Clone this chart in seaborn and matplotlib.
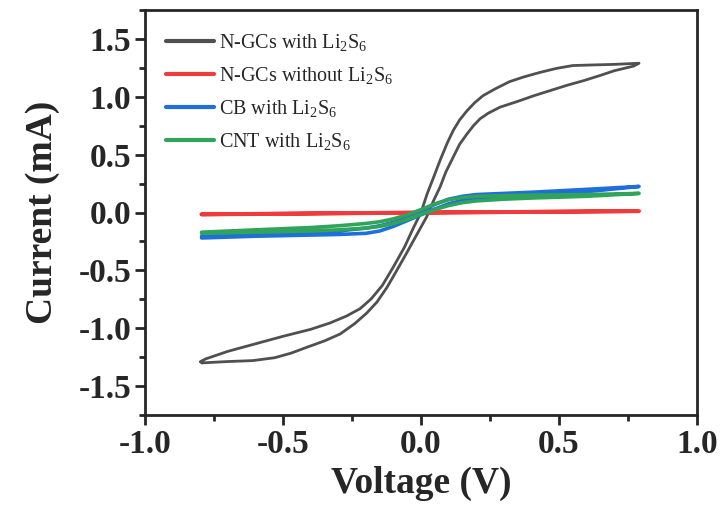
import numpy as np
import pandas as pd
import matplotlib
matplotlib.use("Agg")
import matplotlib.pyplot as plt
import seaborn as sns
from matplotlib.ticker import MultipleLocator

# N-GCs with Li2S6 : forward (-0.8 -> 0.8) and reverse (0.8 -> -0.8) scans
ngc_v_fwd = [-0.80, -0.78, -0.70, -0.60, -0.50, -0.40, -0.33, -0.27, -0.22, -0.18,
             -0.14, -0.10, -0.06, -0.027, 0.0, 0.022, 0.045, 0.069, 0.095, 0.117,
             0.14, 0.167, 0.195, 0.225, 0.27, 0.32, 0.37, 0.43, 0.49, 0.55, 0.62,
             0.70, 0.79]
ngc_i_fwd = [-1.29, -1.265, -1.20, -1.135, -1.07, -1.01, -0.955, -0.895, -0.83, -0.745,
             -0.63, -0.47, -0.30, -0.13, 0.0, 0.16, 0.30, 0.45, 0.60, 0.71,
             0.80, 0.88, 0.95, 1.01, 1.07, 1.13, 1.17, 1.21, 1.245, 1.27, 1.275,
             1.28, 1.29]
ngc_v_rev = [0.79, 0.77, 0.70, 0.65, 0.59, 0.53, 0.47, 0.41, 0.35, 0.286, 0.245,
             0.214, 0.19, 0.167, 0.14, 0.117, 0.09, 0.069, 0.045, 0.02, -0.015,
             -0.052, -0.09, -0.124, -0.16, -0.197, -0.24, -0.293, -0.35, -0.414,
             -0.47, -0.53, -0.61, -0.70, -0.795]
ngc_i_rev = [1.29, 1.265, 1.225, 1.185, 1.14, 1.10, 1.055, 1.01, 0.96, 0.91, 0.86,
             0.81, 0.75, 0.68, 0.59, 0.48, 0.35, 0.22, 0.10, -0.04, -0.19,
             -0.35, -0.51, -0.65, -0.775, -0.87, -0.96, -1.05, -1.11, -1.165,
             -1.215, -1.255, -1.28, -1.288, -1.30]

# N-GCs without Li2S6
bare_v = [-0.795, -0.4, 0.0, 0.4, 0.79, 0.4, 0.0, -0.4, -0.795]
bare_i = [-0.015, -0.008, 0.0, 0.006, 0.012, 0.005, -0.002, -0.009, -0.017]

# CB with Li2S6
cb_v = [-0.795, -0.6, -0.4, -0.3, -0.2, -0.15, -0.1, -0.05, 0.0, 0.05, 0.1, 0.15,
        0.2, 0.3, 0.4, 0.6, 0.79,
        0.6, 0.4, 0.3, 0.2, 0.15, 0.1, 0.05, 0.0, -0.05, -0.1, -0.15, -0.2, -0.3,
        -0.4, -0.6, -0.795]
cb_i = [-0.205, -0.19, -0.175, -0.16, -0.135, -0.115, -0.085, -0.04, 0.01, 0.07,
        0.115, 0.14, 0.155, 0.165, 0.175, 0.20, 0.225,
        0.18, 0.155, 0.14, 0.125, 0.105, 0.075, 0.03, -0.02, -0.07, -0.12, -0.16,
        -0.18, -0.19, -0.195, -0.205, -0.22]

# CNT with Li2S6
cnt_v = [-0.795, -0.6, -0.4, -0.3, -0.2, -0.15, -0.1, -0.05, 0.0, 0.05, 0.1, 0.15,
         0.2, 0.3, 0.4, 0.6, 0.79,
         0.6, 0.4, 0.3, 0.2, 0.15, 0.1, 0.05, 0.0, -0.05, -0.1, -0.15, -0.2, -0.3,
         -0.4, -0.6, -0.795]
cnt_i = [-0.17, -0.15, -0.13, -0.115, -0.095, -0.08, -0.055, -0.02, 0.025, 0.075,
         0.11, 0.13, 0.14, 0.145, 0.15, 0.155, 0.165,
         0.14, 0.125, 0.115, 0.10, 0.085, 0.06, 0.025, -0.015, -0.06, -0.095, -0.12,
         -0.135, -0.15, -0.16, -0.17, -0.18]

labels = [r"N-GCs with Li$_2$S$_6$", r"N-GCs without Li$_2$S$_6$",
          r"CB with Li$_2$S$_6$", r"CNT with Li$_2$S$_6$"]
colors = ["#505050", "#ef3b3b", "#1f6fdb", "#30a45a"]
widths = [2.0, 2.8, 2.6, 2.6]

series = [
    (ngc_v_fwd + ngc_v_rev, ngc_i_fwd + ngc_i_rev),
    (bare_v, bare_i),
    (cb_v, cb_i),
    (cnt_v, cnt_i),
]

sns.set_style("ticks")
plt.rcParams["font.family"] = ["Liberation Serif", "DejaVu Serif"]
plt.rcParams["mathtext.fontset"] = "custom"
plt.rcParams["mathtext.rm"] = "Liberation Serif"
plt.rcParams["mathtext.default"] = "regular"
plt.rcParams["axes.unicode_minus"] = False

fig, ax = plt.subplots(figsize=(7.21, 5.13), dpi=100)
fig.subplots_adjust(left=145 / 721, right=697 / 721, top=1 - 10 / 513, bottom=1 - 415 / 513)

for (v, i), lab, c, lw in zip(series, labels, colors, widths):
    df = pd.DataFrame({"Voltage": v, "Current": i, "step": np.arange(len(v))})
    sns.lineplot(data=df, x="Voltage", y="Current", sort=False, estimator=None,
                 color=c, lw=lw, label=lab, ax=ax, solid_capstyle="round",
                 solid_joinstyle="round")

ax.set_xlim(-1.0, 1.0)
ax.set_ylim(-1.75, 1.75)
ax.xaxis.set_major_locator(MultipleLocator(0.5))
ax.xaxis.set_minor_locator(MultipleLocator(0.25))
ax.yaxis.set_major_locator(MultipleLocator(0.5))
ax.yaxis.set_minor_locator(MultipleLocator(0.25))
ax.tick_params(which="major", length=7, width=2, labelsize=24, pad=3, direction="out")
ax.tick_params(which="minor", length=4, width=2, direction="out")
for lab in ax.get_xticklabels() + ax.get_yticklabels():
    lab.set_fontweight("bold")
for s in ax.spines.values():
    s.set_linewidth(2)
    s.set_visible(True)

ax.set_xlabel("Voltage (V)", fontsize=27, fontweight="bold", labelpad=4)
ax.set_ylabel("Current (mA)", fontsize=27, fontweight="bold", labelpad=13)

leg = ax.legend(loc="upper left", frameon=False, fontsize=14.5, handlelength=2.4,
                handletextpad=0.25, labelspacing=0.6, borderaxespad=0.3,
                bbox_to_anchor=(0.012, 0.98))
for h in leg.get_lines():
    h.set_linewidth(3)

fig.savefig("out.png", dpi=100)
